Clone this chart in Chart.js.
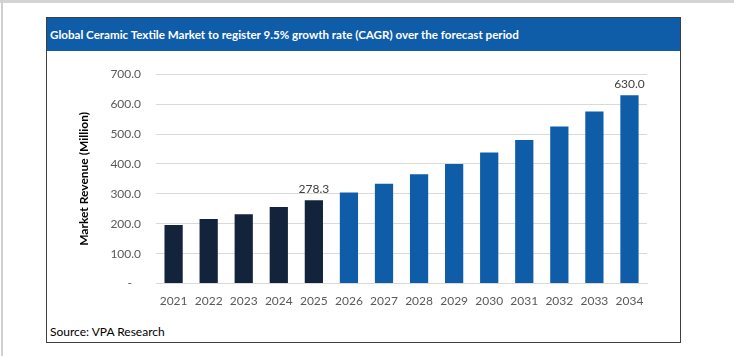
<!DOCTYPE html>
<html>
<head>
<meta charset="utf-8">
<script src="https://cdn.jsdelivr.net/npm/chart.js@4"></script>
<style>
html,body{margin:0;padding:0;background:#fff;}
body{width:734px;height:356px;position:relative;overflow:hidden;font-family:Lato,"Liberation Sans",sans-serif;}
#topline{position:absolute;left:0;top:0;width:734px;height:3px;background:#d4d4d4;}
#leftline{position:absolute;left:1px;top:0;width:2px;height:356px;background:#d0d0d0;}
#box{position:absolute;left:46px;top:17px;width:633px;height:324px;border:1px solid #3f3f3f;background:#fff;}
#title{position:absolute;left:0;top:0;width:633px;height:33px;background:#0f5ca8;color:#fff;font-weight:bold;font-size:11.6px;line-height:33px;padding-left:3px;box-sizing:border-box;white-space:nowrap;}
#source{position:absolute;left:3px;top:306px;font-size:12px;color:#000;white-space:nowrap;}
#wrap{position:absolute;left:0;top:34px;width:633px;height:268px;}
</style>
</head>
<body>
<div id="topline"></div>
<div id="leftline"></div>
<div id="box">
  <div id="title">Global Ceramic Textile Market to register 9.5% growth rate (CAGR) over the forecast period</div>
  <div id="wrap"><canvas id="c" width="633" height="268"></canvas></div>
  <div id="source">Source: VPA Research</div>
</div>
<script>
const years = ["2021","2022","2023","2024","2025","2026","2027","2028","2029","2030","2031","2032","2033","2034"];
const revenue = [196.0, 216.0, 232.0, 256.0, 278.3, 304.7, 333.7, 365.4, 400.1, 438.1, 479.7, 525.3, 575.2, 630.0];
const historicColor = "#13233c";
const forecastColor = "#0f5ca8";
const lastHistoricIndex = 4;
const labeledIndexes = [4, 13];
const yTicks = [0, 100, 200, 300, 400, 500, 600, 700];

const barColors = revenue.map((v, i) => i <= lastHistoricIndex ? historicColor : forecastColor);

const labelPlugin = {
  id: 'valueLabels',
  afterDatasetsDraw(chart) {
    const ctx = chart.ctx;
    const meta = chart.getDatasetMeta(0);
    ctx.save();
    ctx.font = '12px Lato, "Liberation Sans", sans-serif';
    ctx.fillStyle = '#404040';
    ctx.textAlign = 'center';
    ctx.textBaseline = 'bottom';
    labeledIndexes.forEach(i => {
      const bar = meta.data[i];
      ctx.fillText(revenue[i].toFixed(1), bar.x, bar.y - 5);
    });
    ctx.restore();
  }
};

new Chart(document.getElementById('c'), {
  type: 'bar',
  data: {
    labels: years,
    datasets: [{
      data: revenue,
      backgroundColor: barColors,
      borderColor: barColors,
      borderWidth: 0,
      categoryPercentage: 1.0,
      barPercentage: 0.52
    }]
  },
  options: {
    responsive: false,
    animation: false,
    layout: { padding: { left: 30, right: 33, top: 17, bottom: 10 } },
    plugins: { legend: { display: false }, tooltip: { enabled: false } },
    scales: {
      x: {
        grid: { display: false },
        border: { color: '#d9d9d9' },
        ticks: { color: '#595959', font: { family: 'Lato, "Liberation Sans", sans-serif', size: 12 }, padding: 2, maxRotation: 0 }
      },
      y: {
        min: 0, max: 700,
        afterBuildTicks(axis) { axis.ticks = yTicks.map(v => ({ value: v })); },
        grid: { color: '#d9d9d9', drawTicks: false },
        border: { display: false },
        ticks: {
          color: '#595959',
          font: { family: 'Lato, "Liberation Sans", sans-serif', size: 12 },
          padding: 15,
          callback: v => v === 0 ? '-   ' : Number(v).toFixed(1)
        },
        title: {
          display: true,
          text: 'Market Revenue (Million)',
          color: '#000',
          font: { family: 'Lato, "Liberation Sans", sans-serif', size: 12, weight: 'bold' },
          padding: { top: 0, bottom: 4 }
        }
      }
    }
  },
  plugins: [labelPlugin]
});
</script>
</body>
</html>
